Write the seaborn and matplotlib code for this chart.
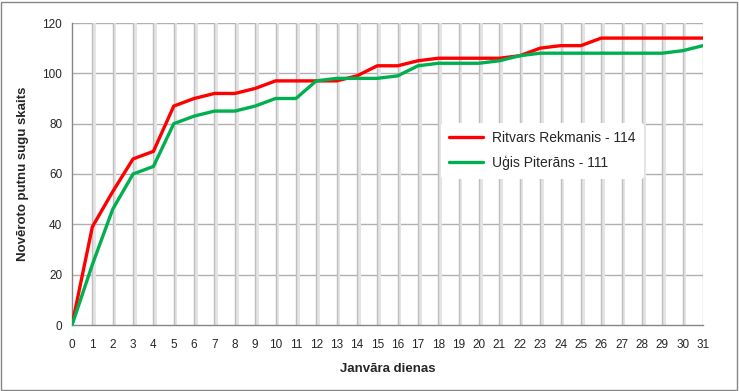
import numpy as np
import pandas as pd
import matplotlib
matplotlib.use("Agg")
import matplotlib.pyplot as plt
import matplotlib.patheffects as pe
import seaborn as sns

days = list(range(0, 32))
ritvars = [0, 39, 53, 66, 69, 87, 90, 92, 92, 94, 97, 97, 97, 97, 99, 103,
           103, 105, 106, 106, 106, 106, 107, 110, 111, 111, 114, 114, 114, 114, 114, 114]
ugis = [0, 24, 46, 60, 63, 80, 83, 85, 85, 87, 90, 90, 97, 98, 98, 98,
        99, 103, 104, 104, 104, 105, 107, 108, 108, 108, 108, 108, 108, 108, 109, 111]
series_names = ["Ritvars Rekmanis - 114", "Uģis Piterāns - 111"]
colors = ["#FF0000", "#00B050"]
yticks = [0, 20, 40, 60, 80, 100, 120]
xlabel = "Janvāra dienas"
ylabel = "Novēroto putnu sugu skaits"

df = pd.concat([
    pd.DataFrame({"day": days, "value": ritvars, "series": series_names[0]}),
    pd.DataFrame({"day": days, "value": ugis, "series": series_names[1]}),
])

sns.set_style("white")
plt.rcParams['font.family'] = ['Liberation Sans', 'DejaVu Sans']

fig = plt.figure(figsize=(7.39, 3.91), dpi=100)
ax = fig.add_axes([72/739, 66/391, 631/739, 302/391])

# grid
for v in yticks[1:]:
    ax.axhline(v, color="#B0B0B0", lw=1.0, zorder=0)
for d in days[1:]:
    ax.axvline(d, color="#BEBEBE", lw=1.0, zorder=0,
               path_effects=[pe.SimpleLineShadow(offset=(1.2, 0), shadow_color="#E4E4E4", alpha=1.0, linewidth=2.2), pe.Normal()])

sns.lineplot(data=df, x="day", y="value", hue="series", palette=colors,
             linewidth=2.4, ax=ax, legend=True, zorder=3)

ax.set_xlim(0, 31)
ax.set_ylim(0, 120)
ax.set_xticks(days)
ax.set_yticks(yticks)
ax.tick_params(axis="both", labelsize=8.5, length=4, color="#868686", direction="out", pad=3)
ax.tick_params(axis="x", length=0, pad=10)
for s in ["top", "right"]:
    ax.spines[s].set_visible(False)
for s in ["left", "bottom"]:
    ax.spines[s].set_color("#868686")
    ax.spines[s].set_linewidth(1.0)
ax.set_xlabel(xlabel, fontsize=9.5, fontweight="bold", labelpad=9)
ax.set_ylabel(ylabel, fontsize=9.5, fontweight="bold", labelpad=10)

leg = ax.legend(loc="upper left", bbox_to_anchor=(362/631, 1 - 93/302), frameon=True,
                fontsize=10, handlelength=2.4, labelspacing=0.75, borderpad=0.6,
                handletextpad=0.7)
leg.get_frame().set_edgecolor("none")
leg.get_frame().set_facecolor("white")
leg.get_frame().set_alpha(1.0)
leg.set_zorder(5)
for line in leg.get_lines():
    line.set_linewidth(2.4)

fig.patches.append(plt.Rectangle((0.002, 0.003), 0.995, 0.993, transform=fig.transFigure,
                                 fill=False, edgecolor="#868686", lw=1.0))
fig.savefig("out.png", dpi=100)
